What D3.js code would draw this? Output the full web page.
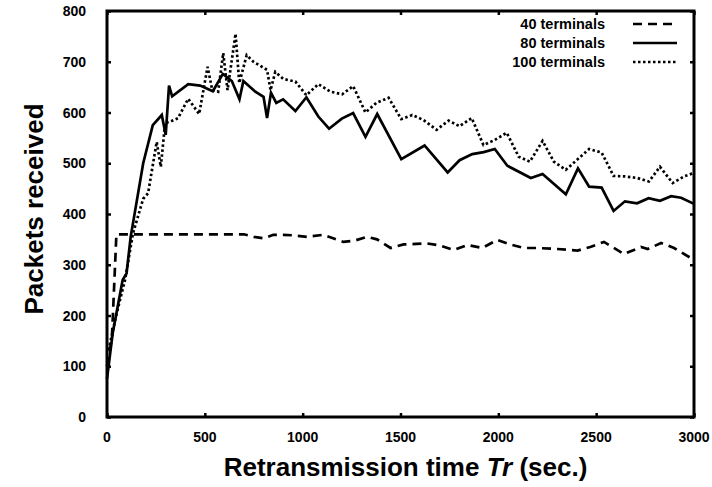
<!DOCTYPE html>
<html lang="en">
<head>
  <meta charset="UTF-8">
  <script src="https://d3js.org/d3.v7.min.js"></script>
  <style>
    body { margin: 0; background: white; }
    text { font-family: "Liberation Sans", Arial, sans-serif; font-weight: bold; fill: black; }
  </style>
</head>
<body>
  <div id="chart"></div>
  <script>
    // series names as in the legend
    const seriesNames = ["40 terminals", "80 terminals", "100 terminals"];

    // [retransmission time, packets received]
    const pts40 = [[0,100],[25,155],[48,360],[100,360],[200,360],[300,360],[400,360],[500,360],[600,360],[700,360],
      [750,355],[800,352],[850,359],[900,359],[950,358],[1022,355],[1106,359],[1208,345],[1270,348],[1330,355],
      [1380,350],[1449,333],[1516,340],[1580,341],[1637,342],[1700,338],[1772,329],[1842,339],[1918,333],[1995,349],
      [2060,340],[2130,333],[2200,333],[2302,331],[2405,328],[2470,335],[2540,345],[2642,321],[2729,335],[2764,331],
      [2832,343],[2898,333],[2985,313],[3000,310]];

    const pts80 = [[0,75],[29,165],[80,270],[100,283],[121,355],[185,500],[234,575],[280,595],[300,556],[317,653],
      [333,632],[415,656],[476,653],[541,642],[592,676],[638,662],[677,626],[697,662],[758,641],[800,631],
      [818,589],[838,639],[865,619],[900,626],[963,603],[1019,630],[1080,592],[1135,568],[1200,588],[1258,599],
      [1321,552],[1381,597],[1504,508],[1623,535],[1741,482],[1802,506],[1867,518],[1925,522],[1982,528],[2046,495],
      [2166,471],[2226,479],[2345,439],[2407,490],[2464,454],[2528,452],[2589,406],[2647,425],[2709,421],[2768,431],
      [2826,426],[2883,435],[2934,432],[3000,420]];

    const pts100 = [[8,132],[50,205],[92,270],[133,362],[185,430],[210,441],[254,542],[275,493],[297,579],[322,582],
      [363,589],[415,627],[471,597],[514,690],[538,644],[568,641],[594,717],[616,644],[657,755],[676,658],
      [714,713],[748,700],[818,684],[836,644],[860,680],[901,666],[963,661],[1019,634],[1080,656],[1142,641],
      [1202,636],[1258,652],[1321,600],[1377,619],[1439,629],[1504,587],[1560,595],[1618,585],[1685,566],[1746,584],
      [1802,573],[1864,589],[1924,536],[1982,546],[2043,560],[2104,513],[2161,503],[2226,544],[2284,503],[2345,487],
      [2464,528],[2528,521],[2589,475],[2647,474],[2709,471],[2770,464],[2826,493],[2891,461],[2949,474],[3000,481]];

    const xTicks = [0, 500, 1000, 1500, 2000, 2500, 3000];
    const yTicks = [0, 100, 200, 300, 400, 500, 600, 700, 800];

    const W = 712, H = 487;
    const pL = 107, pR = 694, pT = 11, pB = 417;

    const svg = d3.select("#chart").append("svg")
      .attr("width", W).attr("height", H);

    const x = d3.scaleLinear().domain([0, 3000]).range([pL, pR]);
    const y = d3.scaleLinear().domain([0, 800]).range([pB, pT]);

    // inward ticks on all four sides
    const tk = 4;
    svg.append("g").attr("transform", `translate(0,${pB})`)
      .call(d3.axisBottom(x).tickValues(xTicks).tickSize(-tk).tickFormat(""))
      .call(g => g.select(".domain").remove());
    svg.append("g").attr("transform", `translate(0,${pT})`)
      .call(d3.axisTop(x).tickValues(xTicks).tickSize(-tk).tickFormat(""))
      .call(g => g.select(".domain").remove());
    svg.append("g").attr("transform", `translate(${pL},0)`)
      .call(d3.axisLeft(y).tickValues(yTicks).tickSize(-tk).tickFormat(""))
      .call(g => g.select(".domain").remove());
    svg.append("g").attr("transform", `translate(${pR},0)`)
      .call(d3.axisRight(y).tickValues(yTicks).tickSize(-tk).tickFormat(""))
      .call(g => g.select(".domain").remove());
    svg.selectAll(".tick line").attr("stroke", "black").attr("stroke-width", 2.5);

    // tick labels
    svg.selectAll(".xlab").data(xTicks).enter().append("text")
      .attr("x", d => x(d)).attr("y", 442)
      .attr("text-anchor", "middle").attr("font-size", 14)
      .text(d => d);
    svg.selectAll(".ylab").data(yTicks).enter().append("text")
      .attr("x", 86).attr("y", d => y(d) + 5)
      .attr("text-anchor", "end").attr("font-size", 14)
      .text(d => d);

    const line = d3.line().x(d => x(d[0])).y(d => y(d[1]));
    const styles = [
      { pts: pts40, dash: "9,6" },
      { pts: pts80, dash: null },
      { pts: pts100, dash: "2.5,2.5" }
    ];
    styles.forEach(s => {
      svg.append("path").datum(s.pts)
        .attr("d", line)
        .attr("fill", "none")
        .attr("stroke", "black")
        .attr("stroke-width", 2.7)
        .attr("stroke-linejoin", "miter")
        .attr("stroke-dasharray", s.dash);
    });

    // frame
    svg.append("rect")
      .attr("x", pL).attr("y", pT)
      .attr("width", pR - pL).attr("height", pB - pT)
      .attr("fill", "none").attr("stroke", "black").attr("stroke-width", 3);

    // legend
    const legend = svg.append("g");
    seriesNames.forEach((name, i) => {
      const ly = 29 + i * 19;
      legend.append("text")
        .attr("x", 605).attr("y", ly)
        .attr("text-anchor", "end").attr("font-size", 14.5)
        .text(name);
      legend.append("line")
        .attr("x1", 633).attr("x2", 677)
        .attr("y1", ly - 5).attr("y2", ly - 5)
        .attr("stroke", "black").attr("stroke-width", 2.7)
        .attr("stroke-dasharray", styles[i].dash);
    });

    // axis titles
    const xt = svg.append("text")
      .attr("x", (pL + pR) / 2 + 5).attr("y", 476)
      .attr("text-anchor", "middle").attr("font-size", 26);
    xt.append("tspan").text("Retransmission time ");
    xt.append("tspan").attr("font-style", "italic").text("Tr");
    xt.append("tspan").text(" (sec.)");

    svg.append("text")
      .attr("transform", `translate(43,${(pT + pB) / 2 - 5}) rotate(-90)`)
      .attr("text-anchor", "middle").attr("font-size", 26)
      .text("Packets received");
  </script>
</body>
</html>
